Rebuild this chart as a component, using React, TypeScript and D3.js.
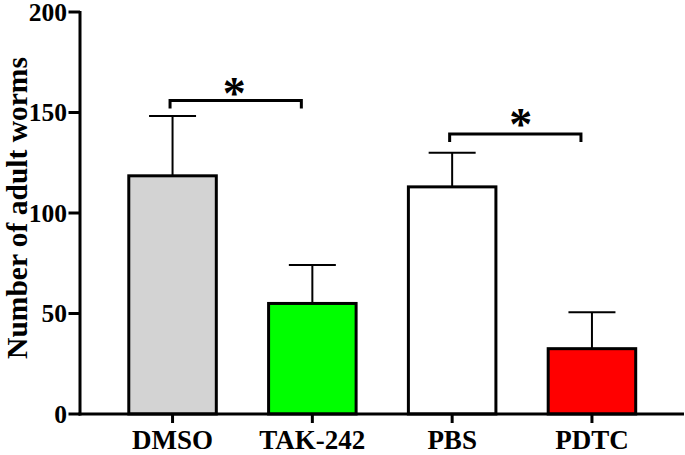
import React from "react";
import * as d3 from "d3";

const categories = ["DMSO", "TAK-242", "PBS", "PDTC"];
const means = [118.5, 55, 113, 32.5];
const errors = [29.8, 19.1, 17, 18.1];
const fills = ["#d3d3d3", "#00ff00", "#ffffff", "#ff0000"];
const yTicks = [0, 50, 100, 150, 200];
const comparisons = [
  { a: 0, b: 1, y: 156, label: "*" },
  { a: 2, b: 3, y: 139.3, label: "*" },
];

const W = 685;
const H = 455;
const FONT = "'Liberation Serif', 'Times New Roman', serif";
const starOffsets = [
  [-1.5, 0],
  [5.5, -3],
];

export default function App() {
  const x = d3
    .scaleBand<string>()
    .domain(categories)
    .range([80, 684.5])
    .paddingInner(0.374)
    .paddingOuter(0.349);
  const y = d3.scaleLinear().domain([0, 200]).range([414, 12]);
  const bw = x.bandwidth();
  const cx = (c: string) => (x(c) as number) + bw / 2;

  return (
    <svg
      width={W}
      height={H}
      style={{ position: "absolute", left: 0, top: 0, background: "#fff" }}
      fontFamily={FONT}
    >
      {/* bars */}
      {categories.map((c, i) => (
        <rect
          key={c}
          x={x(c)}
          y={y(means[i])}
          width={bw}
          height={y(0) - y(means[i])}
          fill={fills[i]}
          stroke="#000"
          strokeWidth={3}
        />
      ))}
      {/* error bars */}
      {categories.map((c, i) => (
        <g key={"e" + c} stroke="#000" strokeWidth={2}>
          <line x1={cx(c)} x2={cx(c)} y1={y(means[i])} y2={y(means[i] + errors[i])} />
          <line
            x1={cx(c) - 23.5}
            x2={cx(c) + 23.5}
            y1={y(means[i] + errors[i])}
            y2={y(means[i] + errors[i])}
          />
        </g>
      ))}
      {/* y axis */}
      <line x1={80} x2={80} y1={y(0) + 1.5} y2={y(200) - 1} stroke="#000" strokeWidth={3} />
      {yTicks.map((t) => (
        <g key={t}>
          <line x1={68.5} x2={80} y1={y(t)} y2={y(t)} stroke="#000" strokeWidth={3} />
          <text
            x={67}
            y={y(t) + 8.5}
            textAnchor="end"
            fontSize={25.5}
            fontWeight="bold"
          >
            {t}
          </text>
        </g>
      ))}
      {/* x axis */}
      <line x1={78.5} x2={684} y1={y(0)} y2={y(0)} stroke="#000" strokeWidth={3} />
      {categories.map((c) => (
        <g key={"t" + c}>
          <line x1={cx(c)} x2={cx(c)} y1={y(0)} y2={y(0) + 9} stroke="#000" strokeWidth={3} />
          <text x={cx(c)} y={449} textAnchor="middle" fontSize={27} fontWeight="bold">
            {c}
          </text>
        </g>
      ))}
      {/* y axis title */}
      <text
        transform="translate(27,208) rotate(-90)"
        textAnchor="middle"
        fontSize={29.5}
        fontWeight="bold"
      >
        Number of adult worms
      </text>
      {/* significance brackets */}
      {comparisons.map((cmp, k) => {
        const x1 = cx(categories[cmp.a]) - 2.5;
        const x2 = cx(categories[cmp.b]) - 11;
        const yy = y(cmp.y);
        const yd = y(cmp.y - 4);
        return (
          <g key={"c" + k}>
            <path
              d={`M${x1},${yd}V${yy}H${x2}V${yd}`}
              fill="none"
              stroke="#000"
              strokeWidth={3}
            />
            <text
              x={(x1 + x2) / 2 + starOffsets[k][0]}
              y={yy + 9 + starOffsets[k][1]}
              textAnchor="middle"
              fontSize={46}
              fontWeight="bold"
            >
              {cmp.label}
            </text>
          </g>
        );
      })}
    </svg>
  );
}
